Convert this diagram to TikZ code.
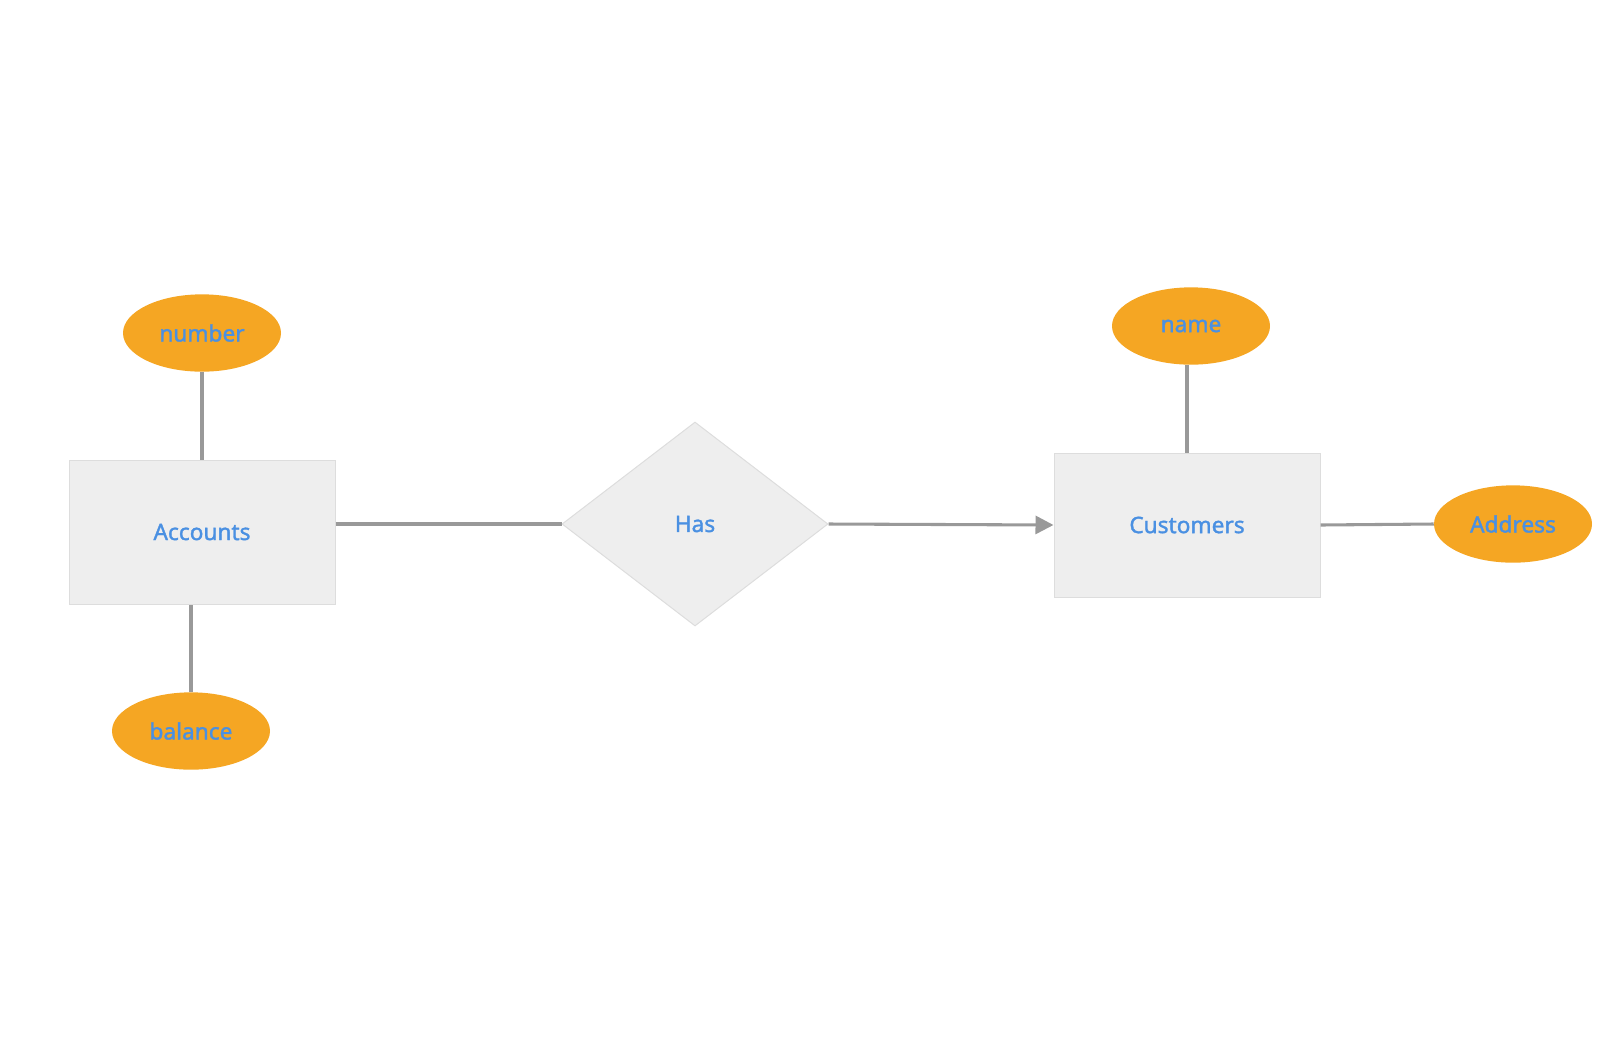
\documentclass[tikz,border=0pt]{standalone}
\usepackage{fontspec}
\setmainfont{Noto Sans}
\newfontfamily\labelfont{Noto Sans}[FakeBold=1.5]
\usetikzlibrary{arrows.meta, shapes.geometric}
\definecolor{attrc}{HTML}{F5A623}
\definecolor{labelc}{HTML}{4A90E2}
\definecolor{boxc}{HTML}{EEEEEE}
\definecolor{edgec}{HTML}{DDDDDD}
\definecolor{linkc}{HTML}{999999}

\tikzset{
  entity/.style={rectangle, fill=boxc, draw=edgec, line width=0.75pt,
                 minimum width=199.5pt, minimum height=108pt, inner sep=0pt},
  relation/.style={diamond, fill=boxc, draw=edgec, line width=0.75pt,
                   minimum width=199.5pt, minimum height=153pt, inner sep=0pt},
  attr/.style={ellipse, fill=attrc, minimum width=118.5pt, minimum height=58pt, inner sep=0pt},
  link/.style={draw=linkc, line width=2.3pt},
  every node/.append style={text=labelc, font=\labelfont\fontsize{17}{20}\selectfont}
}

\begin{document}
\begin{tikzpicture}[x=0.75pt, y=-0.75pt]
  \useasboundingbox (0,0) rectangle (1603,1051);
  % entities and relation
  \node[entity] (acc) at (202,532) {Accounts};
  \node[relation] (has) at (695,524) {Has};
  \node[entity] (cus) at (1187,525) {Customers};
  % attributes
  \node[attr] (num) at (202,333) {number};
  \node[attr] (bal) at (191,731) {balance};
  \node[attr] (nam) at (1191,326) {name};
  \node[attr] (adr) at (1513,524) {Address};
  % links
  \draw[link] (num.south) -- (num.south |- acc.north);
  \draw[link] (bal.north) -- (bal.north |- acc.south);
  \draw[link] (has.west -| acc.east) -- (has.west);
  \draw[link, -{Triangle[length=13.5pt, width=13.5pt]}] (has.east) -- (cus.west);
  \draw[link] (cus.north) -- (cus.north |- nam.south);
  \draw[link] (cus.east) -- (adr.west);
\end{tikzpicture}
\end{document}
